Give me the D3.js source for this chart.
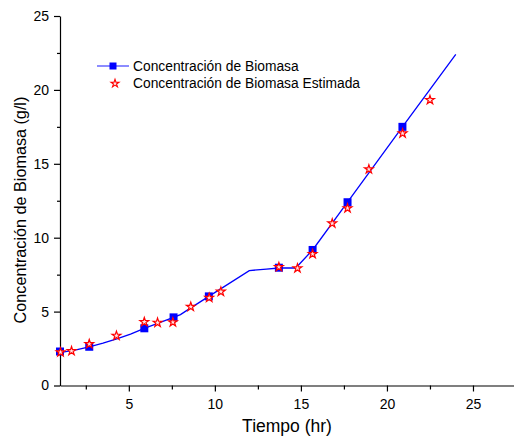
<!DOCTYPE html>
<html>
<head>
<meta charset="utf-8">
<script src="https://cdn.jsdelivr.net/npm/d3@7"></script>
<style>
  body { margin: 0; background: #fff; }
  text { font-family: Arial, "Liberation Sans", sans-serif; fill: #000; }
  .axis path, .axis line { stroke: #000; stroke-width: 1.2; }
  .axis text { font-size: 14px; }
</style>
</head>
<body>
<script>
// measured biomass (squares)
var tiempoMedido = [1.0, 2.7, 5.9, 7.6, 9.65, 13.72, 15.68, 17.71, 20.9];
var biomasaMedida = [2.3, 2.62, 3.87, 4.61, 6.03, 7.97, 9.17, 12.4, 17.5];

// estimated biomass (stars)
var tiempoEstimado = [1.03, 1.67, 2.7, 4.28, 5.9, 6.67, 7.56, 8.6, 9.67, 10.35, 13.72, 14.8, 15.68, 16.82, 17.71, 18.95, 20.91, 22.5];
var biomasaEstimada = [2.25, 2.33, 2.81, 3.37, 4.3, 4.25, 4.28, 5.33, 5.94, 6.35, 8.02, 7.93, 8.9, 10.97, 11.99, 14.63, 17.06, 19.32];

// blue curve
var tiempoCurva = [1.0, 2.0, 2.7, 3.5, 4.3, 5.1, 5.9, 7.6, 8.0, 8.6, 9.65, 12.0, 13.0, 13.72, 14.7, 15.68, 17.71, 20.9, 24.0];
var biomasaCurva = [2.22, 2.42, 2.62, 2.86, 3.15, 3.48, 3.87, 4.61, 4.8, 5.25, 6.03, 7.77, 7.88, 7.95, 7.95, 9.17, 12.4, 17.5, 22.4];

var xTicks = [5, 10, 15, 20, 25];
var yTicks = [0, 5, 10, 15, 20, 25];

window.onload = function(){

    var margin = { top: 16, left: 60 };
    var width = 456;
    var height = 369.5;

    var svg = d3.select("body")
      .append("svg")
        .attr("width", 514)
        .attr("height", 439)
      .append("g")
        .attr("transform", "translate(" + margin.left + "," + margin.top + ")");

    var xscale = d3.scaleLinear().domain([1, 27.5]).range([0, width]);
    var yscale = d3.scaleLinear().domain([0, 25]).range([height, 0]);

    // minor ticks first (no labels)
    svg.append("g")
      .attr("class", "axis")
      .attr("transform", "translate(0," + height + ")")
      .call(d3.axisBottom(xscale).tickValues([2.5, 7.5, 12.5, 17.5, 22.5, 27.5]).tickSize(4).tickFormat(""))
      .select(".domain").remove();

    svg.append("g")
      .attr("class", "axis")
      .call(d3.axisLeft(yscale).tickValues([2.5, 7.5, 12.5, 17.5, 22.5]).tickSize(3).tickFormat(""))
      .select(".domain").remove();

    // major axes
    svg.append("g")
      .attr("class", "axis")
      .attr("transform", "translate(0," + height + ")")
      .call(d3.axisBottom(xscale).tickValues(xTicks).tickSize(6).tickSizeOuter(0).tickPadding(8));

    svg.append("g")
      .attr("class", "axis")
      .call(d3.axisLeft(yscale).tickValues(yTicks).tickSize(6).tickSizeOuter(0).tickPadding(5));

    // curve
    var line = d3.line()
      .x(function(d) { return xscale(d[0]); })
      .y(function(d) { return yscale(d[1]); });

    var curva = tiempoCurva.map(function(t, i) { return [t, biomasaCurva[i]]; });

    svg.append("path")
      .datum(curva)
      .attr("d", line)
      .attr("fill", "none")
      .attr("stroke", "#0000ff")
      .attr("stroke-width", 1.3);

    // squares
    svg.selectAll(".cuadro")
      .data(tiempoMedido)
      .enter().append("path")
      .attr("class", "cuadro")
      .attr("d", d3.symbol().type(d3.symbolSquare).size(64))
      .attr("transform", function(d, i) {
        return "translate(" + xscale(d) + "," + yscale(biomasaMedida[i]) + ")";
      })
      .attr("fill", "#0000ff");

    // stars
    var star = d3.symbol().type(d3.symbolStar).size(24);
    svg.selectAll(".estrella")
      .data(tiempoEstimado)
      .enter().append("path")
      .attr("class", "estrella")
      .attr("d", star)
      .attr("transform", function(d, i) {
        return "translate(" + xscale(d) + "," + yscale(biomasaEstimada[i]) + ")";
      })
      .attr("fill", "#ffe4e4")
      .attr("stroke", "#ff0000")
      .attr("stroke-width", 1.2);

    // legend
    var legend = svg.append("g")
      .attr("transform", "translate(" + (97 - margin.left) + "," + (66 - margin.top) + ")");

    legend.append("line")
      .attr("x1", 0).attr("x2", 32)
      .attr("y1", 0).attr("y2", 0)
      .attr("stroke", "#6666ff")
      .attr("stroke-width", 1.5);

    legend.append("path")
      .attr("d", d3.symbol().type(d3.symbolSquare).size(49))
      .attr("transform", "translate(16,0)")
      .attr("fill", "#0000ff");

    legend.append("path")
      .attr("d", d3.symbol().type(d3.symbolStar).size(20))
      .attr("transform", "translate(18,17.5)")
      .attr("fill", "#ffe4e4")
      .attr("stroke", "#ff0000")
      .attr("stroke-width", 1.1);

    legend.append("text")
      .attr("x", 36)
      .attr("y", 0)
      .attr("dy", ".35em")
      .style("font-size", "13.8px")
      .text("Concentración de Biomasa");

    legend.append("text")
      .attr("x", 36)
      .attr("y", 17.5)
      .attr("dy", ".35em")
      .style("font-size", "13.8px")
      .text("Concentración de Biomasa Estimada");

    // axis titles
    svg.append("text")
      .attr("x", 287 - margin.left)
      .attr("y", 432 - margin.top)
      .attr("text-anchor", "middle")
      .style("font-size", "17.5px")
      .text("Tiempo (hr)");

    svg.append("text")
      .attr("transform", "translate(" + (26 - margin.left) + "," + (210 - margin.top) + ") rotate(-90)")
      .attr("text-anchor", "middle")
      .style("font-size", "16.2px")
      .text("Concentración de Biomasa (g/l)");
};
</script>
</body>
</html>
